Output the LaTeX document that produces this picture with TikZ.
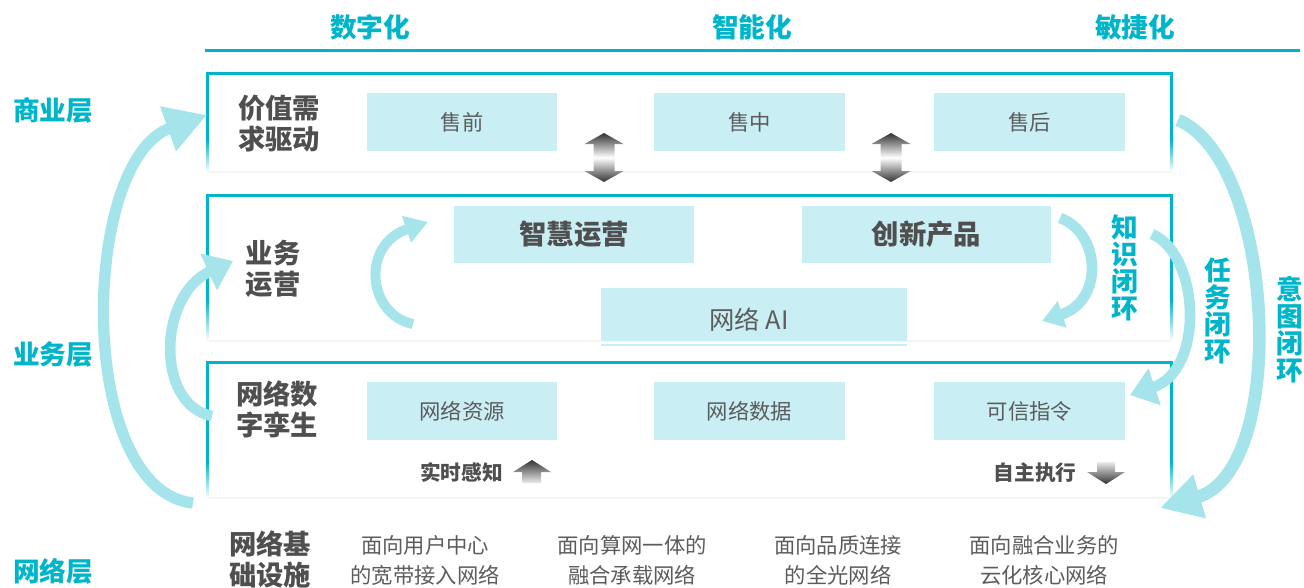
\documentclass[tikz,border=0pt]{standalone}
\usepackage{fontspec}
\setmainfont{Noto Sans CJK SC}
\usetikzlibrary{arrows.meta}
\definecolor{teal1}{HTML}{00B5CA}
\definecolor{boxc}{HTML}{C9EEF4}
\definecolor{arcc}{HTML}{A6E4EC}
\definecolor{dark}{HTML}{4F4F4F}
\definecolor{gtext}{HTML}{5C5C5C}
\newcommand\myframe[3]{%
  \fill[teal1] (206,#1) rectangle (1173,#1+3);
  \fill[teal1] (206,#1) rectangle (209,#2);
  \shade[top color=teal1,bottom color=white] (206,#2) rectangle (209,#3);
  \fill[teal1] (1170,#1) rectangle (1173,#2);
  \shade[top color=teal1,bottom color=white] (1170,#2) rectangle (1173,#3);
  \fill[black!4] (209,#3-1) rectangle (1170,#3+1);
}
\newcommand\dblarrow[1]{%
  \shade[top color=black!80, bottom color=black!80, middle color=white]
    (#1,133) -- (#1+19.5,144) -- (#1+10.5,144) -- (#1+10.5,171) -- (#1+19.5,171)
    -- (#1,182) -- (#1-19.5,171) -- (#1-10.5,171) -- (#1-10.5,144) -- (#1-19.5,144) -- cycle;
}
\begin{document}
\begin{tikzpicture}[x=0.75pt,y=-0.75pt,
  hdr/.style={font=\fontsize{20}{24}\selectfont\bfseries, text=teal1, inner sep=0},
  ttl/.style={font=\fontsize{20.5}{23.25}\selectfont\bfseries, text=dark, align=center, inner sep=0},
  cbox/.style={fill=boxc, inner sep=0, text=gtext, font=\fontsize{16}{19}\selectfont},
  cboxb/.style={cbox, font=\fontsize{20.5}{24}\selectfont\bfseries, text=dark},
  loopl/.style={font=\fontsize{20}{20.25}\selectfont\bfseries, text=teal1, align=center, inner sep=0},
  btxt/.style={font=\fontsize{16}{22.5}\selectfont, text=gtext, align=center, inner sep=0},
  sense/.style={font=\fontsize{15.5}{18}\selectfont\bfseries, text=dark, inner sep=0},
  arcline/.style={draw=arcc, line cap=butt}
]
\useasboundingbox (0,0) rectangle (1304,587);

% header line
\fill[teal1] (205,48.5) rectangle (1300,51.5);
\node[hdr] (h1) at (370,27) {数字化};
\node[hdr] (h2) at (752,27) {智能化};
\node[hdr] (h3) at (1135,27) {敏捷化};

% layer labels
\node[hdr] (l1) at (53,110) {商业层};
\node[hdr] (l2) at (53,355) {业务层};
\node[hdr] (l3) at (53,571) {网络层};

% frames
\myframe{72}{140}{172}
\myframe{194}{300}{341}
\myframe{361}{462}{498}

% boxes row 1
\node[cbox, minimum width=142.5pt, minimum height=43.5pt] (s1) at (462,122) {售前};
\node[cbox, minimum width=143.25pt, minimum height=43.5pt] (s2) at (749.5,122) {售中};
\node[cbox, minimum width=143.25pt, minimum height=43.5pt] (s3) at (1029.5,122) {售后};

% row 2
\node[cboxb, minimum width=180pt, minimum height=42.75pt] (z1) at (574,234.5) {智慧运营};
\node[cboxb, minimum width=186.75pt, minimum height=42.75pt] (z2) at (926.5,234.5) {创新产品};
\node[cbox, minimum width=229.5pt, minimum height=39.75pt] (ai) at (754,314.5) {};
\node[text=gtext, font=\fontsize{19}{22}\selectfont, inner sep=0] (ait) at (749,320) {网络 AI};
\fill[boxc] (601,343.5) rectangle (907,346);

% row 3
\node[cbox, minimum width=142.5pt, minimum height=43.5pt] (r1) at (462,411) {网络资源};
\node[cbox, minimum width=143.25pt, minimum height=43.5pt] (r2) at (749.5,411) {网络数据};
\node[cbox, minimum width=143.25pt, minimum height=43.5pt] (r3) at (1029.5,411) {可信指令};

% titles
\node[ttl] (t1) at (279,124) {价值需\\求驱动};
\node[ttl] (t2) at (273,269) {业务\\运营};
\node[ttl] (t3) at (277,409) {网络数\\字孪生};
\node[ttl] (t4) at (270,559) {网络基\\础设施};

% double arrows
\dblarrow{604}
\dblarrow{891}

% sensing / executing
\node[sense] (p1) at (461.5,472) {实时感知};
\node[sense] (p2) at (1035,473) {自主执行};
\shade[top color=black!80, bottom color=black!8]
  (532,460) -- (551,472) -- (541,472) -- (541,483) -- (522,483) -- (522,472) -- (513,472) -- cycle;
\shade[top color=black!8, bottom color=black!80]
  (1097,462) -- (1115,462) -- (1115,472) -- (1125,472) -- (1106,484) -- (1087,472) -- (1097,472) -- cycle;

% bottom texts
\node[btxt] (b1) at (425,560) {面向用户中心\\的宽带接入网络};
\node[btxt] (b2) at (632,560) {面向算网一体的\\融合承载网络};
\node[btxt] (b3) at (838,560) {面向品质连接\\的全光网络};
\node[btxt] (b4) at (1044,560) {面向融合业务的\\云化核心网络};

% loop arcs
\coordinate (a1s) at (193,503); \coordinate (a1e) at (207,115);
\draw[arcline, line width=8.5pt, -{Triangle[length=31pt,width=33.5pt]}]
  (a1s) .. controls (75,490) and (80,160) .. (a1e);
\coordinate (a2s) at (212,416); \coordinate (a2e) at (233,261);
\draw[arcline, line width=8pt, -{Triangle[length=20pt,width=29pt]}]
  (a2s) .. controls (155,405) and (158,295) .. (a2e);
\coordinate (a3s) at (413,324); \coordinate (a3e) at (428,222);
\draw[arcline, line width=7.5pt, -{Triangle[length=17pt,width=20pt]}]
  (a3s) .. controls (368,315) and (360,245) .. (a3e);
\coordinate (a4s) at (1060,218); \coordinate (a4e) at (1042,321);
\draw[arcline, line width=8pt, -{Triangle[length=16pt,width=20pt]}]
  (a4s) .. controls (1100,232) and (1105,300) .. (a4e);
\coordinate (a5s) at (1152,234); \coordinate (a5e) at (1130,395);
\draw[arcline, line width=8pt, -{Triangle[length=19.5pt,width=28pt]}]
  (a5s) .. controls (1200,255) and (1205,370) .. (a5e);
\coordinate (a6s) at (1178,120); \coordinate (a6e) at (1160,508);
\draw[arcline, line width=9.5pt, -{Triangle[length=31pt,width=32pt]}]
  (a6s) .. controls (1275,160) and (1290,470) .. (a6e);

% loop labels
\node[loopl] (k1) at (1125,268) {知\\识\\闭\\环};
\node[loopl] (k2) at (1218,311) {任\\务\\闭\\环};
\node[loopl] (k3) at (1290,330) {意\\图\\闭\\环};
\end{tikzpicture}
\end{document}
